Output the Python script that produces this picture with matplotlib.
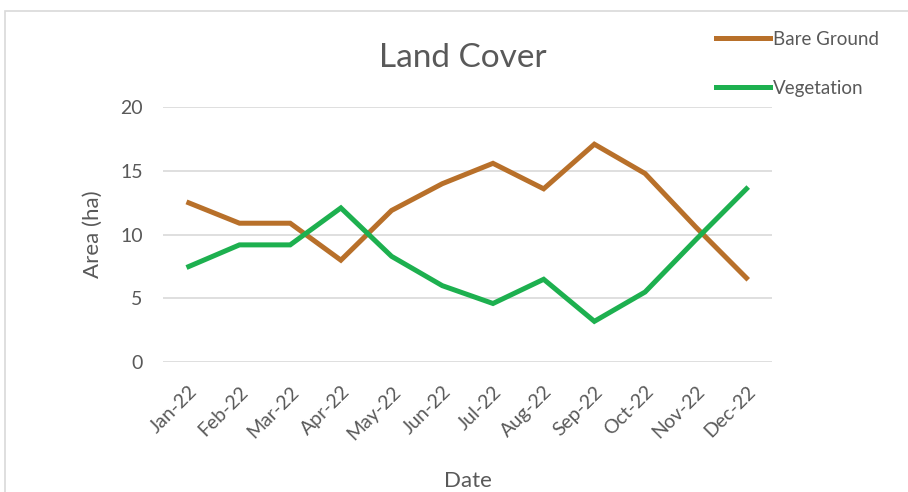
import matplotlib.pyplot as plt
from matplotlib.patches import Rectangle

plt.rcParams['font.family'] = ['Lato', 'DejaVu Sans']

# monthly area (ha) per land cover class
months = ['Jan-22', 'Feb-22', 'Mar-22', 'Apr-22', 'May-22', 'Jun-22',
          'Jul-22', 'Aug-22', 'Sep-22', 'Oct-22', 'Nov-22', 'Dec-22']
bare_ground = [12.5, 10.9, 10.9, 8.0, 11.9, 14.0, 15.6, 13.6, 17.1, 14.8, 10.6, 6.6]
vegetation = [7.5, 9.2, 9.2, 12.1, 8.3, 6.0, 4.6, 6.5, 3.2, 5.5, 9.6, 13.6]

grey = '#595959'

fig = plt.figure(figsize=(9.08, 4.92), dpi=100)
ax = fig.add_axes([0.18, 0.264, 0.67, 0.518])

# light frame round the chart area
fig.patches.append(Rectangle((5 / 908, -0.1), 1.2, 1 - 11 / 492 + 0.1,
                             transform=fig.transFigure, fill=False,
                             edgecolor='#d9d9d9', linewidth=1.2))

x = range(len(months))
ax.plot(x, bare_ground, color='#B8702A', linewidth=3.6, label='Bare Ground',
        solid_joinstyle='miter')
ax.plot(x, vegetation, color='#1DB04F', linewidth=3.6, label='Vegetation',
        solid_joinstyle='miter')

ax.set_xlim(-0.5, len(months) - 0.5)
ax.set_ylim(0, 20)
ax.set_yticks([0, 5, 10, 15, 20])
ax.set_xticks(list(x))
ax.set_xticklabels(months, rotation=45, ha='right', rotation_mode='anchor',
                   fontsize=14.5)
ax.tick_params(axis='both', length=0, labelsize=14, labelcolor=grey)
ax.tick_params(axis='y', pad=15)
ax.tick_params(axis='x', pad=15)
ax.grid(axis='y', color='#d9d9d9', linewidth=1.2)
ax.set_axisbelow(True)
for s in ax.spines.values():
    s.set_visible(False)

ax.set_xlabel('Date', fontsize=16, color=grey, labelpad=20)
ax.set_ylabel('Area (ha)', fontsize=16, color=grey, labelpad=12)
fig.text(0.51, 0.883, 'Land Cover', fontsize=24, color=grey,
         ha='center', va='center')

fig.legend(loc='upper left', bbox_to_anchor=(0.77, 0.972), frameon=False,
           fontsize=13.5, labelcolor=grey, handlelength=2.9, handletextpad=0.15,
           labelspacing=1.7)

fig.savefig('out.png', dpi=100)
